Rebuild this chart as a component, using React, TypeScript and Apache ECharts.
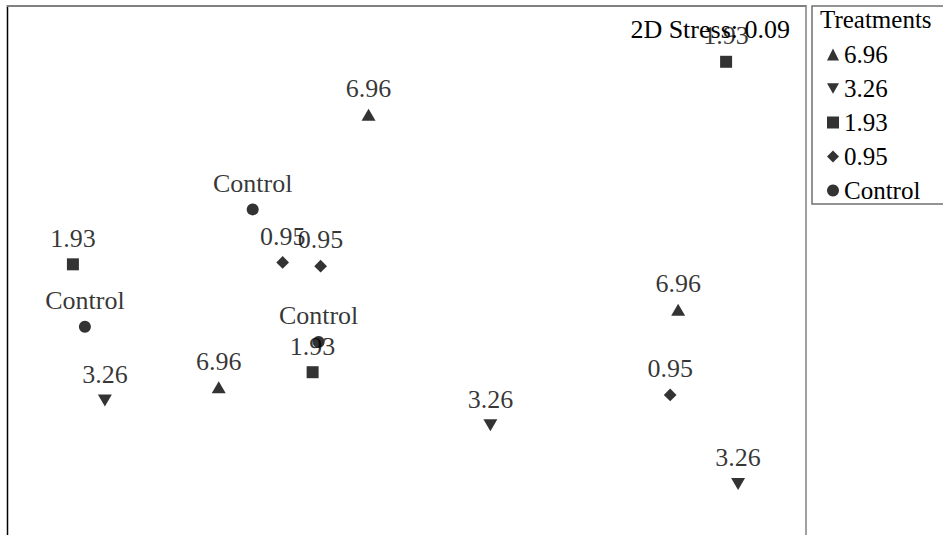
import React, { useEffect, useRef } from "react";
import * as echarts from "echarts";

const treatments = ["6.96", "3.26", "1.93", "0.95", "Control"];
const symbols = ["triangle", "triangle", "rect", "rect", "circle"];
const rotations = [0, 180, 0, 45, 0];
const sizes: any[] = [[14, 12], [14, 12], 12, 9, 12];
const legendIcons = [
  "triangle",
  "path://M0,0 L14,0 L7,12 Z",
  "rect",
  "path://M6,0 L12,6 L6,12 L0,6 Z",
  "circle",
];

const pts696 = [[-0.19, 0.82], [-0.94, -0.62], [1.36, -0.21]];
const pts326 = [[-1.51, -0.69], [0.42, -0.82], [1.66, -1.13]];
const pts193 = [[1.6, 1.1], [-1.67, 0.03], [-0.47, -0.54]];
const pts095 = [[-0.62, 0.04], [-0.43, 0.02], [1.32, -0.66]];
const ptsControl = [[-0.77, 0.32], [-1.61, -0.3], [-0.44, -0.38]];
const seriesData = [pts696, pts326, pts193, pts095, ptsControl];

const stressText = "2D Stress: 0.09";
const legendTitle = "Treatments";

const FONT = "Liberation Serif";

export default function App() {
  const ref = useRef<HTMLDivElement>(null);
  useEffect(() => {
    document.body.style.margin = "0";
    const chart = echarts.init(ref.current!, null, { renderer: "svg" });
    chart.setOption({
      animation: false,
      backgroundColor: "#fff",
      textStyle: { fontFamily: FONT },
      grid: { left: 7, top: 5, right: 137, bottom: 0 },
      xAxis: { type: "value", min: -2, max: 2, show: false },
      yAxis: { type: "value", min: -1.4, max: 1.4, show: false },
      legend: {
        orient: "vertical",
        left: 822,
        top: 37,
        itemWidth: 12,
        itemHeight: 12,
        itemGap: 9,
        data: treatments.map((name, i) => ({ name, icon: legendIcons[i] })),
        textStyle: { fontFamily: FONT, fontSize: 25, color: "#000" },
      },
      graphic: [
        { type: "line", shape: { x1: 7.5, y1: 5, x2: 7.5, y2: 535 }, style: { stroke: "#000", lineWidth: 1.5 } },
        { type: "line", shape: { x1: 7, y1: 6, x2: 806, y2: 6 }, style: { stroke: "#808080", lineWidth: 2 } },
        { type: "line", shape: { x1: 806, y1: 5, x2: 806, y2: 535 }, style: { stroke: "#808080", lineWidth: 1.5 } },
        { type: "rect", shape: { x: 812, y: 6, width: 140, height: 198 }, style: { fill: "none", stroke: "#707070", lineWidth: 1.5 } },
        {
          type: "text",
          x: 820,
          y: 19,
          style: { text: legendTitle, fontFamily: FONT, fontSize: 25, fill: "#000", verticalAlign: "middle", align: "left" },
        },
        {
          type: "text",
          x: 790,
          y: 29,
          style: { text: stressText, fontFamily: FONT, fontSize: 26, fill: "#000", verticalAlign: "middle", align: "right" },
        },
      ],
      series: treatments.map((name, i) => ({
        name,
        type: "scatter",
        symbol: symbols[i],
        symbolRotate: rotations[i],
        symbolSize: sizes[i],
        itemStyle: { color: "#000" },
        data: seriesData[i],
        label: {
          show: true,
          position: "top",
          distance: 7,
          formatter: "{a}",
          fontFamily: FONT,
          fontSize: 26,
          color: "#000",
        },
      })),
    });
    return () => chart.dispose();
  }, []);
  return <div ref={ref} style={{ width: 943, height: 535 }} />;
}
